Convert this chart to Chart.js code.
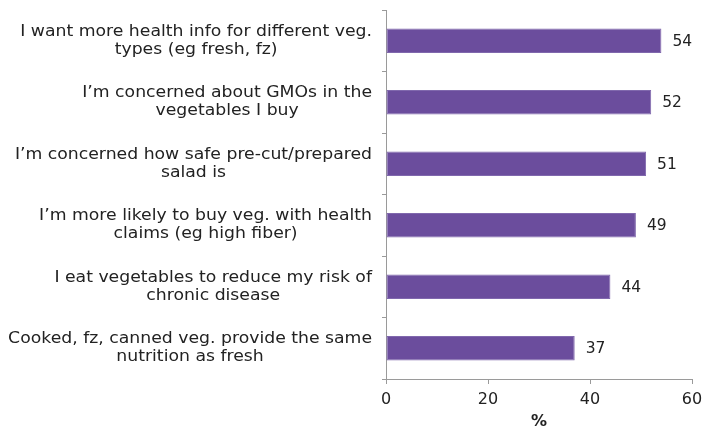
<!DOCTYPE html>
<html>
<head>
<meta charset="utf-8">
<script src="https://cdn.jsdelivr.net/npm/chart.js@4"></script>
<style>
  html, body { margin: 0; padding: 0; background: #fff; }
  #wrap { width: 702px; height: 433px; }
</style>
</head>
<body>
<div id="wrap"><canvas id="vegChart"></canvas></div>
<script>
// --- Chart data ---
const statements = [
    ['I want more health info for different veg.', 'types (eg fresh, fz)'],
    ['I\u2019m concerned about GMOs in the', 'vegetables I buy'],
    ['I\u2019m concerned how safe pre-cut/prepared', 'salad is'],
    ['I\u2019m more likely to buy veg. with health', 'claims (eg high fiber)'],
    ['I eat vegetables to reduce my risk of', 'chronic disease'],
    ['Cooked, fz, canned veg. provide the same', 'nutrition as fresh']
];
const agreePct = [54, 52, 51, 49, 44, 37];
const xTicks = [0, 20, 40, 60];

const fontFamily = "'DejaVu Sans'";
const textColor = '#222';
const axisColor = '#9a9a9a';
const barColor = '#6b4d9d';
// category text is set a little wider than the font's natural width
const labelStretch = 1.15;

Chart.defaults.font.family = fontFamily;

// --- Draws the two-line statements, each centred in its own block ---
const statementLabels = {
    id: 'statementLabels',
    afterDraw(chart) {
        const { ctx, scales: { y } } = chart;
        const rightEdge = y.right - 14;
        const lineHeight = 18;
        ctx.save();
        ctx.font = '15px ' + fontFamily;
        ctx.fillStyle = textColor;
        ctx.textAlign = 'center';
        ctx.textBaseline = 'middle';
        statements.forEach((lines, i) => {
            const cy = y.getPixelForValue(i);
            const blockW = labelStretch * Math.max(...lines.map(l => ctx.measureText(l).width));
            const cx = rightEdge - blockW / 2;
            const startY = cy - (lines.length - 1) * lineHeight / 2;
            lines.forEach((line, j) => {
                ctx.save();
                ctx.translate(cx, startY + j * lineHeight);
                ctx.scale(labelStretch, 1);
                ctx.fillText(line, 0, 0);
                ctx.restore();
            });
        });
        ctx.restore();
    }
};

// --- Value at the end of each bar ---
const barValues = {
    id: 'barValues',
    afterDatasetsDraw(chart) {
        const { ctx } = chart;
        const meta = chart.getDatasetMeta(0);
        ctx.save();
        ctx.font = '15.5px ' + fontFamily;
        ctx.fillStyle = textColor;
        ctx.textAlign = 'left';
        ctx.textBaseline = 'middle';
        meta.data.forEach((bar, i) => {
            ctx.fillText(String(agreePct[i]), bar.x + 11, bar.y + 1);
        });
        ctx.restore();
    }
};

new Chart(document.getElementById('vegChart'), {
    type: 'bar',
    data: {
        labels: statements,
        datasets: [{
            data: agreePct,
            backgroundColor: barColor,
            borderColor: '#8068ad',
            borderWidth: 1,
            borderSkipped: false,
            categoryPercentage: 1,
            barPercentage: 0.4
        }]
    },
    options: {
        indexAxis: 'y',
        responsive: true,
        maintainAspectRatio: false,
        animation: false,
        layout: { padding: { top: 10, right: 10, left: 0, bottom: 0 } },
        plugins: {
            legend: { display: false },
            tooltip: { enabled: false }
        },
        scales: {
            y: {
                offset: true,
                grid: {
                    display: true,
                    offset: true,
                    drawOnChartArea: false,
                    tickLength: 4,
                    color: axisColor
                },
                border: { display: true, color: axisColor },
                ticks: { display: false },
                afterFit(scale) {
                    scale.width = 386;
                    scale.paddingTop = 0;
                    scale.paddingBottom = 0;
                }
            },
            x: {
                min: 0,
                max: 60,
                afterBuildTicks(scale) { scale.ticks = xTicks.map(v => ({ value: v })); },
                grid: {
                    display: true,
                    drawOnChartArea: false,
                    tickLength: 5,
                    color: axisColor
                },
                border: { display: true, color: axisColor },
                ticks: {
                    color: textColor,
                    padding: 6,
                    font: { size: 16 }
                },
                title: {
                    display: true,
                    text: '%',
                    color: textColor,
                    padding: { top: 2, bottom: 2 },
                    font: { size: 16, weight: 'bold' }
                },
                afterFit(scale) {
                    scale.height = 54;
                    scale.paddingLeft = 0;
                    scale.paddingRight = 0;
                }
            }
        }
    },
    plugins: [statementLabels, barValues]
});
</script>
</body>
</html>
